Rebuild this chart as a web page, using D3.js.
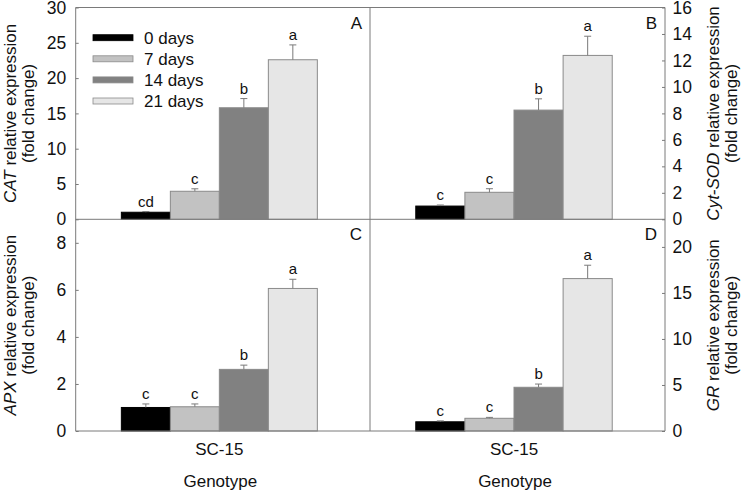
<!DOCTYPE html>
<html>
<head>
<meta charset="utf-8">
<script src="https://cdn.jsdelivr.net/npm/d3@7"></script>
<style>
  html, body { margin: 0; padding: 0; background: #fff; }
  svg { display: block; font-family: "Liberation Sans", Arial, sans-serif; }
</style>
</head>
<body>
<svg id="chart" width="743" height="490"></svg>
<script>
// ---- data ----
const days = ["0 days", "7 days", "14 days", "21 days"];
const genotypes = ["SC-15"];

const catValues = [1.0, 3.97, 15.8, 22.6];
const catErrors = [0.1, 0.35, 1.3, 2.1];
const catLetters = ["cd", "c", "b", "a"];

const sodValues = [1.0, 2.04, 8.25, 12.38];
const sodErrors = [0.08, 0.27, 0.85, 1.45];
const sodLetters = ["c", "c", "b", "a"];

const apxValues = [1.0, 1.03, 2.62, 6.06];
const apxErrors = [0.15, 0.12, 0.18, 0.39];
const apxLetters = ["c", "c", "b", "a"];

const grValues = [1.0, 1.38, 4.75, 16.56];
const grErrors = [0.1, 0.1, 0.35, 1.45];
const grLetters = ["c", "c", "b", "a"];

const catTicks = [0, 5, 10, 15, 20, 25, 30];
const sodTicks = [0, 2, 4, 6, 8, 10, 12, 14, 16];
const apxTicks = [0, 2, 4, 6, 8];
const grTicks = [0, 5, 10, 15, 20];

// ---- layout ----
const fills = ["#000000", "#c2c2c2", "#818181", "#e6e6e6"];
const lineColor = "#7a7a7a";
const X0 = 75.7, XM = 370, X1 = 665;
const Y0 = 7.5, YM = 219.3, Y1 = 431;

const svg = d3.select("#chart");

const panels = [
  { key: "A", values: catValues, errors: catErrors, letters: catLetters, ticks: catTicks, max: 30,
    x: [X0, XM], y: [YM, Y0], side: "left", gene: "CAT" },
  { key: "B", values: sodValues, errors: sodErrors, letters: sodLetters, ticks: sodTicks, max: 16,
    x: [XM, X1], y: [YM, Y0], side: "right", gene: "Cyt-SOD" },
  { key: "C", values: apxValues, errors: apxErrors, letters: apxLetters, ticks: apxTicks, max: 9,
    x: [X0, XM], y: [Y1, YM], side: "left", gene: "APX" },
  { key: "D", values: grValues, errors: grErrors, letters: grLetters, ticks: grTicks, max: 23,
    x: [XM, X1], y: [Y1, YM], side: "right", gene: "GR" }
];

panels.forEach(p => {
  const xBand = d3.scaleBand().domain(genotypes).range([p.x[0], p.x[1] - 7])
    .paddingOuter(0.233).paddingInner(0);
  const xDay = d3.scaleBand().domain(days).range([0, xBand.bandwidth()]).padding(0);
  const y = d3.scaleLinear().domain([0, p.max]).range(p.y);
  const g = svg.append("g");

  const rows = days.map((d, i) => ({ day: d, v: p.values[i], e: p.errors[i], l: p.letters[i], i }));

  genotypes.forEach(gt => {
    const gx = xBand(gt);
    // bars
    g.selectAll(null).data(rows).enter().append("rect")
      .attr("x", d => gx + xDay(d.day))
      .attr("y", d => y(d.v))
      .attr("width", xDay.bandwidth())
      .attr("height", d => y(0) - y(d.v))
      .attr("fill", d => fills[d.i])
      .attr("stroke", d => d.i === 0 ? "#000" : "#8a8a8a")
      .attr("stroke-width", 1);
    // error bars
    const cx = d => gx + xDay(d.day) + xDay.bandwidth() / 2;
    g.selectAll(null).data(rows).enter().append("line")
      .attr("x1", cx).attr("x2", cx)
      .attr("y1", d => y(d.v)).attr("y2", d => y(d.v + d.e))
      .attr("stroke", lineColor).attr("stroke-width", 1);
    g.selectAll(null).data(rows).enter().append("line")
      .attr("x1", d => cx(d) - 3.5).attr("x2", d => cx(d) + 3.5)
      .attr("y1", d => y(d.v + d.e)).attr("y2", d => y(d.v + d.e))
      .attr("stroke", lineColor).attr("stroke-width", 1);
    // letters
    g.selectAll(null).data(rows).enter().append("text")
      .attr("x", cx).attr("y", d => y(d.v + d.e) - 5)
      .attr("text-anchor", "middle").attr("font-size", 15).attr("fill", "#111")
      .text(d => d.l);
  });

  // y axis
  const axis = (p.side === "left" ? d3.axisLeft(y) : d3.axisRight(y))
    .tickValues(p.ticks).tickSizeInner(-3).tickSizeOuter(0)
    .tickPadding(p.side === "left" ? 9.5 : 7.5)
    .tickFormat(d3.format("d"));
  const ax = svg.append("g")
    .attr("transform", `translate(${p.side === "left" ? X0 : X1},0)`)
    .call(axis);
  ax.select(".domain").remove();
  ax.selectAll(".tick line").attr("stroke", lineColor);
  ax.selectAll(".tick text").attr("font-size", 17.5).attr("fill", "#111")
    .attr("font-family", "Liberation Sans, Arial, sans-serif");

  // axis title (two lines, rotated)
  const cy = (p.y[0] + p.y[1]) / 2;
  const bx1 = p.side === "left" ? 15.5 : 718.5;
  const bx2 = p.side === "left" ? 33.5 : 736.5;
  const t1 = svg.append("text")
    .attr("transform", `translate(${bx1},${cy}) rotate(-90)`)
    .attr("text-anchor", "middle").attr("font-size", 17).attr("fill", "#111");
  t1.append("tspan").attr("font-style", "italic").text(p.gene);
  t1.append("tspan").text(" relative expression");
  svg.append("text")
    .attr("transform", `translate(${bx2},${cy}) rotate(-90)`)
    .attr("text-anchor", "middle").attr("font-size", 17).attr("fill", "#111")
    .text("(fold change)");

  // panel letter
  svg.append("text")
    .attr("x", p.x[1] - 8).attr("y", p.y[1] + 21)
    .attr("text-anchor", "end").attr("font-size", 17).attr("fill", "#111")
    .text(p.key);

  // x axis for bottom panels
  if (p.y[0] === Y1) {
    const xa = svg.append("g").attr("transform", `translate(0,${Y1})`)
      .call(d3.axisBottom(xBand).tickSize(0).tickPadding(12));
    xa.select(".domain").remove();
    xa.selectAll(".tick text").attr("font-size", 17).attr("fill", "#111")
      .attr("font-family", "Liberation Sans, Arial, sans-serif");
    svg.append("text")
      .attr("x", xBand(genotypes[0]) + xBand.bandwidth() / 2 + 1)
      .attr("y", 487)
      .attr("text-anchor", "middle").attr("font-size", 17).attr("fill", "#111")
      .text("Genotype");
  }
});

// frame lines
const frame = [
  [X0, Y0, X1, Y0], [X0, YM, X1, YM], [X0, Y1, X1, Y1],
  [X0, Y0, X0, Y1], [XM, Y0, XM, Y1], [X1, Y0, X1, Y1]
];
svg.append("g").selectAll("line").data(frame).enter().append("line")
  .attr("x1", d => d[0]).attr("y1", d => d[1]).attr("x2", d => d[2]).attr("y2", d => d[3])
  .attr("stroke", lineColor).attr("stroke-width", 1);

// legend
const legend = svg.append("g");
days.forEach((d, i) => {
  const cy = 37.7 + i * 21.1;
  legend.append("rect").attr("x", 93).attr("y", cy - 3).attr("width", 40).attr("height", 6)
    .attr("fill", fills[i]).attr("stroke", i === 0 ? "#000" : "#8a8a8a").attr("stroke-width", 0.8);
  legend.append("text").attr("x", 144).attr("y", cy + 6)
    .attr("font-size", 17).attr("fill", "#111").text(d);
});
</script>
</body>
</html>
